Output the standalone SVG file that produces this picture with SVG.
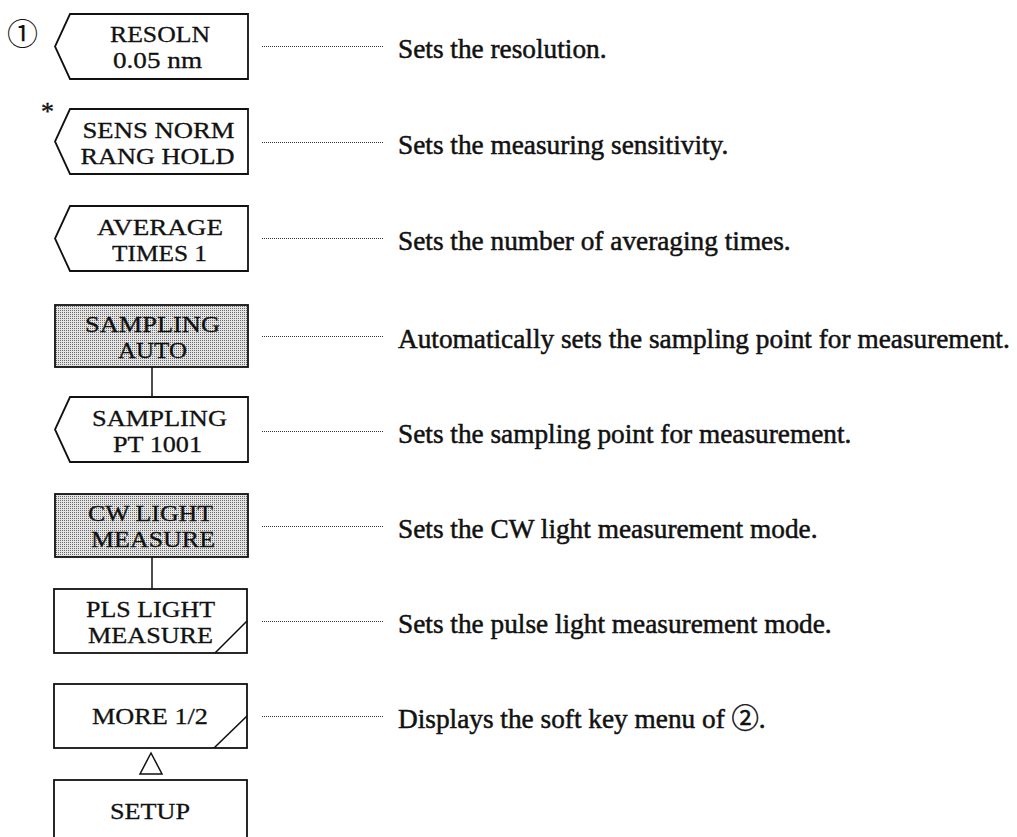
<svg xmlns="http://www.w3.org/2000/svg" width="1017" height="837" viewBox="0 0 1017 837">
<style>
.box{fill:#fff;stroke:#111;stroke-width:1.8}
.shade{fill:url(#dots);stroke:#111;stroke-width:1.8}
.lbl{font-family:"Liberation Serif","Times New Roman",serif;font-size:23.5px;fill:#111;stroke:#111;stroke-width:0.3;text-anchor:middle}
.desc{font-family:"Liberation Serif","Noto Sans CJK JP",serif;font-size:27.3px;fill:#111;stroke:#111;stroke-width:0.5}
.dot{stroke:#333;stroke-width:1;stroke-dasharray:1 1;fill:none}
.conn{stroke:#111;stroke-width:1.5;fill:none}
.diag{stroke:#111;stroke-width:1.6;fill:none}
</style>
<defs>
<pattern id="dots" width="2" height="2" patternUnits="userSpaceOnUse">
<rect width="2" height="2" fill="#e4e4e4"/>
<rect width="1" height="1" fill="#6a6a6a"/>
</pattern>
</defs>
<rect width="1017" height="837" fill="#fff"/>

<text x="7" y="45" font-family="'Noto Sans CJK JP',sans-serif" font-size="31" fill="#111">①</text>
<text x="41" y="120" font-family="'Liberation Serif',serif" font-size="26" fill="#111" stroke="#111" stroke-width="0.4">*</text>

<g id="connectors">
<line class="dot" x1="262" y1="46.5" x2="383" y2="46.5"/>
<line class="dot" x1="262" y1="142.5" x2="383" y2="142.5"/>
<line class="dot" x1="262" y1="238.5" x2="383" y2="238.5"/>
<line class="dot" x1="262" y1="336.5" x2="383" y2="336.5"/>
<line class="dot" x1="262" y1="431.5" x2="383" y2="431.5"/>
<line class="dot" x1="262" y1="526.5" x2="383" y2="526.5"/>
<line class="dot" x1="262" y1="621.5" x2="383" y2="621.5"/>
<line class="dot" x1="262" y1="716.5" x2="383" y2="716.5"/>
<line class="conn" x1="152" y1="367" x2="152" y2="397"/>
<line class="conn" x1="152" y1="557" x2="152" y2="589"/>
<polygon points="151,753 140,774 162,774" fill="#fff" stroke="#111" stroke-width="1.5"/>
</g>

<g id="resoln">
<polygon class="box" points="70,14 248,14 248,79 70,79 55,46.5"/>
<text class="lbl" x="160" y="42" textLength="100" lengthAdjust="spacingAndGlyphs">RESOLN</text>
<text class="lbl" x="157.5" y="68" textLength="89" lengthAdjust="spacingAndGlyphs">0.05 nm</text>
</g>
<g id="sens">
<polygon class="box" points="70,109 248,109 248,174 70,174 55,141.5"/>
<text class="lbl" x="158.5" y="138" textLength="152" lengthAdjust="spacingAndGlyphs">SENS NORM</text>
<text class="lbl" x="157.5" y="164" textLength="154" lengthAdjust="spacingAndGlyphs">RANG HOLD</text>
</g>
<g id="average">
<polygon class="box" points="70,206 248,206 248,271 70,271 55,238.5"/>
<text class="lbl" x="160" y="235" textLength="126" lengthAdjust="spacingAndGlyphs">AVERAGE</text>
<text class="lbl" x="159.5" y="261" textLength="95" lengthAdjust="spacingAndGlyphs">TIMES 1</text>
</g>
<g id="sampling-auto">
<rect class="shade" x="55" y="305" width="193" height="62"/>
<text class="lbl" x="152.5" y="332" textLength="135" lengthAdjust="spacingAndGlyphs">SAMPLING</text>
<text class="lbl" x="152.5" y="358" textLength="69" lengthAdjust="spacingAndGlyphs">AUTO</text>
</g>
<g id="sampling-pt">
<polygon class="box" points="70,397 248,397 248,462 70,462 55,429.5"/>
<text class="lbl" x="159.5" y="426" textLength="135" lengthAdjust="spacingAndGlyphs">SAMPLING</text>
<text class="lbl" x="157.5" y="452" textLength="89" lengthAdjust="spacingAndGlyphs">PT 1001</text>
</g>
<g id="cw-light">
<rect class="shade" x="55" y="494" width="193" height="63"/>
<text class="lbl" x="150.5" y="521" textLength="125" lengthAdjust="spacingAndGlyphs">CW LIGHT</text>
<text class="lbl" x="153" y="547" textLength="124" lengthAdjust="spacingAndGlyphs">MEASURE</text>
</g>
<g id="pls-light">
<rect class="box" x="54" y="589" width="193" height="64"/>
<line class="diag" x1="215" y1="653" x2="247" y2="621"/>
<text class="lbl" x="150.5" y="617" textLength="129" lengthAdjust="spacingAndGlyphs">PLS LIGHT</text>
<text class="lbl" x="150.5" y="643" textLength="125" lengthAdjust="spacingAndGlyphs">MEASURE</text>
</g>
<g id="more">
<rect class="box" x="54" y="684" width="193" height="64"/>
<line class="diag" x1="214" y1="748" x2="247" y2="716"/>
<text class="lbl" x="150" y="724" textLength="116" lengthAdjust="spacingAndGlyphs">MORE 1/2</text>
</g>
<g id="setup">
<rect class="box" x="54" y="780" width="193" height="70"/>
<text class="lbl" x="150" y="819" textLength="80" lengthAdjust="spacingAndGlyphs">SETUP</text>
</g>

<g id="descriptions">
<text class="desc" x="398" y="58">Sets the resolution.</text>
<text class="desc" x="398" y="154">Sets the measuring sensitivity.</text>
<text class="desc" x="398" y="250">Sets the number of averaging times.</text>
<text class="desc" x="398" y="348">Automatically sets the sampling point for measurement.</text>
<text class="desc" x="398" y="443">Sets the sampling point for measurement.</text>
<text class="desc" x="398" y="538">Sets the CW light measurement mode.</text>
<text class="desc" x="398" y="633">Sets the pulse light measurement mode.</text>
<text class="desc" x="398" y="728">Displays the soft key menu of ②.</text>
</g>
</svg>
